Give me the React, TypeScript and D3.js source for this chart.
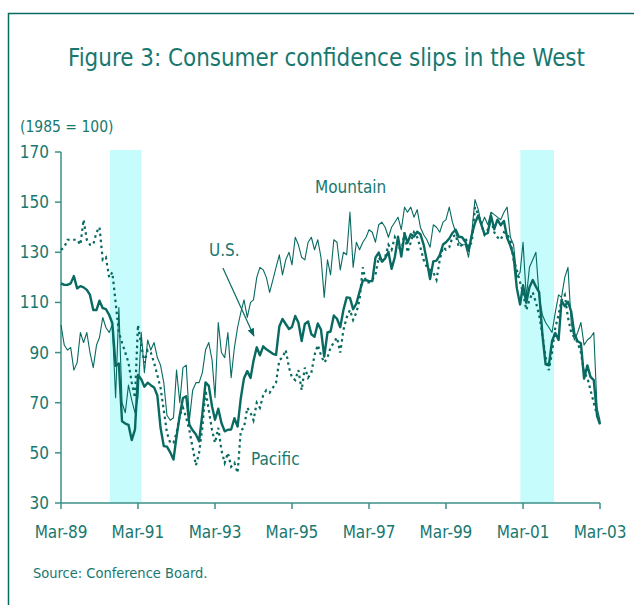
import React from "react";
import * as d3 from "d3";

// Monthly series, Mar-1989 .. Mar-2003 (169 months), index 1985 = 100
const START_MONTH = "1989-03";

const US = [
  117.6, 117, 117, 117.6, 120.5, 115.6, 116.5, 116, 115, 113, 107, 107,
  110.7, 107.7, 107.3, 105, 101.7, 84.7, 85.6, 62.6, 61.7, 61.2, 55.1, 59.4,
  81.1, 79.4, 76.4, 78.0, 77.0, 76.1, 72.9, 60.1, 52.7, 52.5, 50.2, 47.3,
  56.5, 65.1, 71.9, 72.6, 61.2, 59.0, 57.3, 54.6, 65.6, 78.1, 76.7, 68.5,
  63.2, 67.6, 61.9, 58.6, 59.2, 59.3, 63.8, 60.5, 71.9, 79.8, 82.6, 79.9,
  86.7, 92.1, 88.9, 92.5, 91.3, 90.4, 89.5, 89.1, 100.4, 103.4, 101.4, 99.4,
  100.2, 104.6, 102.0, 94.6, 101.4, 102.4, 97.3, 96.3, 101.6, 99.2, 88.4, 98.0,
  98.4, 104.8, 103.5, 100.1, 107.0, 112.0, 111.8, 107.3, 109.5, 114.2, 118.7, 118.9,
  118.5, 118.5, 127.9, 129.9, 126.3, 127.6, 130.2, 123.4, 128.1, 136.2, 128.3, 137.4,
  133.8, 137.2, 136.3, 138.2, 137.2, 133.1, 126.4, 119.3, 126.4, 126.7, 128.9, 133.1,
  134.0, 135.5, 137.7, 139.0, 136.2, 136.0, 134.2, 130.5, 137.0, 141.7, 144.7, 140.8,
  137.1, 137.7, 144.7, 139.2, 143.0, 140.8, 142.5, 135.8, 132.6, 128.6, 115.7, 109.2,
  116.9, 109.9, 116.1, 118.9, 116.3, 114.0, 97.0, 85.3, 84.9, 94.6, 97.8, 95.0,
  110.7, 108.5, 110.3, 106.3, 97.4, 94.5, 93.7, 79.6, 84.9, 80.3, 79.0, 64.8,
  61.4,
];

const MOUNTAIN = [
  101, 93, 91, 92, 83, 86, 98, 94, 98, 90, 84, 93,
  96, 104, 100, 98, 101, 72, 108, 70, 66, 77, 71, 66,
  72, 98, 82, 95, 91, 94, 88, 85, 78, 65, 63, 64,
  83, 70, 84, 85, 63, 75, 78, 78, 82, 91, 94, 87,
  72, 102, 90, 88, 98, 80, 92, 100, 106, 111, 104, 110,
  111, 120, 124, 123, 120, 114, 119, 124, 129, 121, 127, 130,
  125, 136, 133, 128, 127, 134, 136, 131, 135, 128, 112, 127,
  121, 135, 134, 123, 130, 129, 146, 124, 134, 131, 134, 136,
  139, 138, 134, 141, 142, 140, 136, 140, 142, 144, 139, 148,
  146, 148, 144, 147, 140, 137, 135, 132, 141, 140, 138, 142,
  143, 148, 142, 138, 134, 133, 133, 128, 138, 151, 147, 141,
  144, 141, 146, 145, 144, 143, 146, 148, 136, 133, 120, 122,
  134, 112, 124, 127, 130, 112, 105, 102, 100, 98, 106, 113,
  112, 120, 124, 102, 95, 98, 102, 93, 95, 96, 98, 68,
  63,
];

const PACIFIC = [
  131, 132, 135, 135, 135, 135, 133, 143, 135, 133, 133, 138,
  140, 127, 128, 120, 122, 110, 98, 94, 90, 86, 78, 72,
  101, 93, 86, 91, 90, 86, 81, 76, 67, 58, 54, 54,
  58, 65, 68, 64, 59, 52, 45, 50, 60, 75, 67, 59,
  54, 60, 51, 46, 50, 44.5, 46, 42, 59, 60, 68, 66,
  63, 70, 68, 73, 75, 74, 76, 78, 87, 88, 91, 84,
  80, 79, 83, 75, 84, 80, 82, 89, 93, 89, 86, 88,
  92, 94, 96, 90, 99, 104, 107, 103, 106, 111, 124, 118,
  118, 119, 121, 128, 126, 128, 133, 131, 136, 133, 130, 138,
  130, 134, 138, 136, 132, 127, 124, 123, 122, 119, 127, 132,
  131, 132, 136, 137, 132, 133, 136, 132, 134, 148, 145, 141,
  137, 139, 143, 138, 136, 135, 138, 137, 135, 127, 123, 118,
  114, 107, 111, 114, 110, 105, 97, 88, 83, 90, 100, 105,
  111, 113, 104, 98, 96, 94, 90, 82, 80, 75, 70, 65,
  62,
];

const X_TICK_LABELS = ["Mar-89", "Mar-91", "Mar-93", "Mar-95", "Mar-97", "Mar-99", "Mar-01", "Mar-03"];
const X_TICK_DATES = ["1989-03", "1991-03", "1993-03", "1995-03", "1997-03", "1999-03", "2001-03", "2003-03"];
const Y_TICKS = [30, 50, 70, 90, 110, 130, 150, 170];
const RECESSIONS: [string, string][] = [
  ["1990-06-08", "1991-04-05"],
  ["2001-02-03", "2001-12-20"],
];

const TITLE = "Figure 3: Consumer confidence slips in the West";
const UNIT_LABEL = "(1985 = 100)";
const SOURCE = "Source: Conference Board.";

const TEAL_TEXT = "#18786f";
const TEAL_LINE = "#086a61";
const AXIS = "#3c8f88";
const SHADE = "#c6fcfc";
const FONT = "'Liberation Sans Narrow', 'DejaVu Sans Condensed', 'Roboto', sans-serif";

const parse = d3.timeParse("%Y-%m");
const parseDay = d3.timeParse("%Y-%m-%d");

export default function App() {
  const W = 634;
  const H = 605;
  const start = parse(START_MONTH) as Date;
  const dateAt = (i: number) => d3.timeMonth.offset(start, i);

  const x = d3.scaleTime()
    .domain([start, parse("2003-03") as Date])
    .range([61, 600]);
  const y = d3.scaleLinear().domain([30, 170]).range([503, 152]);

  const mk = (vals: number[]) =>
    d3.line<number>()
      .x((_, i) => x(dateAt(i)))
      .y((v) => y(v))(vals) as string;

  const arrowFrom = { d: parseDay("1993-05-15") as Date, v: 123.7 };
  const arrowTo = { d: parseDay("1994-03-05") as Date, v: 96.6 };

  return (
    <svg width={W} height={H} style={{ position: "absolute", left: 0, top: 0 }} fontFamily={FONT}>
      <defs>
        <marker id="arr" viewBox="0 0 10 10" refX="9" refY="5" markerWidth="7" markerHeight="7" orient="auto">
          <path d="M0,1 L10,5 L0,9 z" fill={TEAL_LINE} />
        </marker>
      </defs>
      <rect x={0} y={0} width={W} height={H} fill="#fff" />
      {/* frame */}
      <path d={`M8.5,${H} L8.5,13.5 L${W},13.5`} fill="none" stroke={TEAL_LINE} strokeWidth={1.5} />

      <text x={68} y={66} fontSize={25} fill={TEAL_TEXT} textLength={517} lengthAdjust="spacingAndGlyphs">
        {TITLE}
      </text>
      <text x={20} y={132} fontSize={15.5} fill={TEAL_TEXT}>{UNIT_LABEL}</text>

      {/* recession shading */}
      {RECESSIONS.map(([a, b], i) => {
        const x0 = x(parseDay(a) as Date);
        const x1 = x(parseDay(b) as Date);
        return <rect key={i} x={x0} y={y(170) - 2} width={x1 - x0} height={y(30) - y(170) + 2} fill={SHADE} />;
      })}

      {/* y axis */}
      <line x1={61} x2={61} y1={y(170)} y2={y(30)} stroke={AXIS} strokeWidth={1.5} />
      {Y_TICKS.map((t) => (
        <g key={t}>
          <line x1={55} x2={61} y1={y(t)} y2={y(t)} stroke={AXIS} strokeWidth={1.5} />
          <text x={49} y={y(t) + 6} textAnchor="end" fontSize={17} fill={TEAL_TEXT}>{t}</text>
        </g>
      ))}

      {/* series */}
      <path d={mk(MOUNTAIN)} fill="none" stroke={TEAL_LINE} strokeWidth={1.1} strokeLinejoin="round" />
      <path d={mk(PACIFIC)} fill="none" stroke={TEAL_LINE} strokeWidth={2.2} strokeDasharray="2.5,3.5" />
      <path d={mk(US)} fill="none" stroke={TEAL_LINE} strokeWidth={2.4} strokeLinejoin="round" />

      {/* x axis */}
      <line x1={61} x2={600} y1={y(30)} y2={y(30)} stroke={AXIS} strokeWidth={1.5} />
      {X_TICK_DATES.map((d, i) => {
        const xx = x(parse(d) as Date);
        return (
          <g key={d}>
            <line x1={xx} x2={xx} y1={y(30)} y2={y(30) + 6} stroke={AXIS} strokeWidth={1.5} />
            <text x={xx} y={538} textAnchor="middle" fontSize={17} fill={TEAL_TEXT}>{X_TICK_LABELS[i]}</text>
          </g>
        );
      })}

      {/* annotations */}
      <text x={315} y={193} fontSize={17} fill={TEAL_TEXT}>Mountain</text>
      <text x={209} y={256} fontSize={17} fill={TEAL_TEXT}>U.S.</text>
      <line
        x1={x(arrowFrom.d)} y1={y(arrowFrom.v)} x2={x(arrowTo.d)} y2={y(arrowTo.v)}
        stroke={TEAL_LINE} strokeWidth={1.2} markerEnd="url(#arr)"
      />
      <text x={251} y={465} fontSize={17} fill={TEAL_TEXT}>Pacific</text>

      <text x={33} y={578} fontSize={14.5} fill={TEAL_TEXT}>{SOURCE}</text>
    </svg>
  );
}
